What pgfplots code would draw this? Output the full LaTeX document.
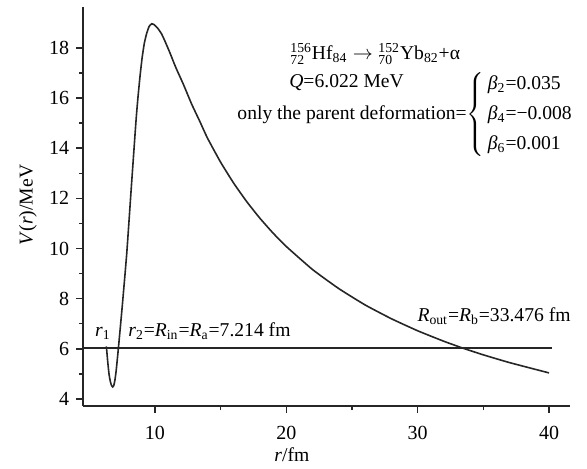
\documentclass[border=0pt]{standalone}
\usepackage{amsmath}
\usepackage{fontspec}
\setmainfont{Liberation Serif}
\usepackage{pgfplots}
\pgfplotsset{compat=1.18}

\pgfplotstableread{
r V
6.30 6.10
6.40 5.50
6.50 5.00
6.60 4.70
6.70 4.53
6.78 4.48
6.86 4.53
6.95 4.75
7.05 5.15
7.214 6.022
7.50 7.65
7.85 9.80
8.20 12.45
8.55 15.05
8.70 16.00
8.86 16.86
9.02 17.60
9.19 18.19
9.37 18.58
9.55 18.85
9.75 18.96
9.95 18.92
10.20 18.79
10.50 18.56
10.80 18.22
11.14 17.80
11.60 17.20
12.16 16.55
12.80 15.75
13.43 15.05
14.00 14.40
15.00 13.44
16.00 12.60
17.00 11.86
18.00 11.20
19.00 10.61
20.00 10.08
22.00 9.16
24.00 8.40
26.00 7.75
28.00 7.20
30.00 6.72
32.00 6.30
33.476 6.022
35.00 5.76
37.00 5.45
40.00 5.04
}\potential

\begin{document}
\fontsize{9.8}{11.8}\selectfont
\begin{tikzpicture}
\begin{axis}[
    at={(0pt,0pt)}, anchor=origin,
    scale only axis,
    width=243.5pt, height=199.5pt,
    xmin=4.52, xmax=41.6,
    ymin=3.72, ymax=19.63,
    axis x line*=bottom, axis y line*=left,
    axis line style={-, line width=0.8pt, black!85},
    xtick={10,20,30,40},
    ytick={4,6,...,18},
    minor x tick num=1, minor y tick num=1,
    tick align=outside,
    major tick length=3.5pt, minor tick length=2pt,
    tick style={line width=0.7pt, black!85},
    ticklabel style={font=\fontsize{10}{12}\selectfont},
    xticklabel style={yshift=-3pt},
    /pgf/number format/assume math mode=true,
    xlabel={\textit{r}/fm},
    ylabel={\textit{V}(\textit{r})/MeV},
    label style={font=\fontsize{9.8}{11.8}\selectfont},
    xlabel style={at={(axis description cs:0.429,0)}, anchor=center, yshift=-24.5pt},
    ylabel style={at={(axis description cs:0,0.504)}, anchor=center, yshift=27.5pt},
    clip=false,
]
\addplot[black!85, line width=0.8pt, smooth, tension=0.3] table[x=r, y=V] {\potential};
\addplot[black!85, line width=0.8pt] coordinates {(4.52,6.022) (40.2,6.022)};

\node[anchor=base west, inner sep=0pt] at (axis cs:20.28,17.54)
  {${}^{\text{156}}_{\text{72}}$Hf$_{\text{84}}\rightarrow{}^{\text{152}}_{\text{70}}$Yb$_{\text{82}}$+α};
\node[anchor=base west, inner sep=0pt] at (axis cs:20.2,16.44)
  {\textit{Q}=6.022 MeV};
\node[anchor=west, inner sep=0pt] at (axis cs:16.25,15.33)
  {only the parent deformation=$\left\{\,\text{\begin{tabular}{@{}l@{}}\textit{β}$_{\text{2}}$=0.035\\[3pt]\textit{β}$_{\text{4}}$=−0.008\\[3pt]\textit{β}$_{\text{6}}$=0.001\end{tabular}}\right.$};

\node[anchor=base, inner sep=0pt] at (axis cs:6.04,6.48) {\textit{r}$_{\text{1}}$};
\node[anchor=base west, inner sep=0pt] at (axis cs:7.94,6.48)
  {\textit{r}$_{\text{2}}$=\textit{R}$_{\text{in}}$=\textit{R}$_{\text{a}}$=7.214 fm};
\node[anchor=base west, inner sep=0pt] at (axis cs:29.96,7.07)
  {\textit{R}$_{\text{out}}$=\textit{R}$_{\text{b}}$=33.476 fm};
\end{axis}
\path[use as bounding box] (-41.5pt,-31pt) rectangle (252pt,203pt);
\end{tikzpicture}
\end{document}
